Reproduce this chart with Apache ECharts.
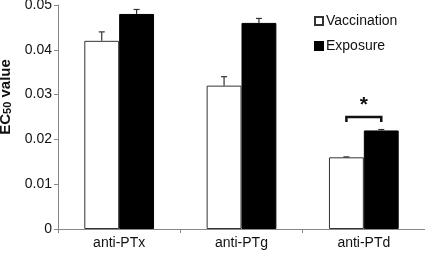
<!DOCTYPE html>
<html>
<head>
<meta charset="utf-8">
<script src="https://cdn.jsdelivr.net/npm/echarts@6/dist/echarts.min.js"></script>
<style>
  html, body { margin: 0; padding: 0; background: #fff; }
  #main { width: 425px; height: 253px; }
</style>
</head>
<body>
<div id="main"></div>
<script>
let categories = ['anti-PTx', 'anti-PTg', 'anti-PTd']
let vaccination = [0.042, 0.032, 0.016]
let exposure = [0.048, 0.046, 0.022]
let vaccinationErr = [0.002, 0.002, 0.0001]
let exposureErr = [0.001, 0.001, 0.0002]
let yTicks = [0, 0.01, 0.02, 0.03, 0.04, 0.05]
// significance bracket over anti-PTd
let sigCategory = 2
let sigLevel = 0.025

let chart = echarts.init(document.getElementById('main'), null, { renderer: 'canvas' })
let catGap = 0.43 // share of category left empty

function barHalf(api) {
  let band = api.size([1, 0])[0]
  return band * (1 - catGap) / 4
}

// error bars: [catIndex, value, err, side]
let errData = []
vaccination.forEach(function (v, i) { errData.push([i, v, vaccinationErr[i], -1]) })
exposure.forEach(function (v, i) { errData.push([i, v, exposureErr[i], 1]) })

function renderErr(params, api) {
  let half = barHalf(api)
  let side = api.value(3)
  let base = api.coord([api.value(0), api.value(1)])
  let top = api.coord([api.value(0), api.value(1) + api.value(2)])
  let x = base[0] + side * half
  let style = { stroke: '#333', lineWidth: 1.2 }
  return {
    type: 'group',
    children: [
      { type: 'line', shape: { x1: x, y1: base[1], x2: x, y2: top[1] }, style: style },
      { type: 'line', shape: { x1: x - 3, y1: top[1], x2: x + 3, y2: top[1] }, style: style }
    ]
  }
}

function renderSig(params, api) {
  let half = barHalf(api)
  let p = api.coord([api.value(0), api.value(1)])
  let x1 = p[0] - half, x2 = p[0] + half
  let style = { stroke: '#111', lineWidth: 2.5, fill: null }
  return {
    type: 'group',
    children: [
      { type: 'polyline', shape: { points: [[x1, p[1] + 5], [x1, p[1]], [x2, p[1]], [x2, p[1] + 5]] }, style: style },
      { type: 'text', style: { x: p[0], y: p[1] - 1, text: '*', fill: '#111', font: 'bold 21px "Liberation Sans", Arial', align: 'center', verticalAlign: 'bottom' } }
    ]
  }
}

let option = {
  animation: false,
  textStyle: { fontFamily: '"Liberation Sans", Arial, sans-serif' },
  grid: { left: 58, right: 0, top: 5, bottom: 24, outerBoundsMode: 'none' },
  legend: {
    orient: 'vertical',
    left: 309,
    top: 9,
    itemWidth: 8,
    itemHeight: 8,
    itemGap: 11,
    icon: 'rect',
    textStyle: { fontSize: 14, color: '#111', fontFamily: '"Liberation Sans", Arial, sans-serif', padding: [0, 0, 0, -2] },
    data: ['Vaccination', 'Exposure']
  },
  xAxis: {
    type: 'category',
    data: categories,
    axisLine: { lineStyle: { color: '#888' } },
    axisTick: { show: true, length: 4, lineStyle: { color: '#888' } },
    axisLabel: { fontSize: 14, color: '#111', margin: 7 }
  },
  yAxis: {
    type: 'value',
    min: yTicks[0],
    max: yTicks[yTicks.length - 1],
    interval: 0.01,
    name: '{a|EC}{b|50}{a| value}',
    nameLocation: 'middle',
    nameGap: 42,
    nameTextStyle: {
      padding: [0, 0, 0, 40],
      rich: {
        a: { fontSize: 15, fontWeight: 'bold', color: '#111', fontFamily: '"Liberation Sans", Arial' },
        b: { fontSize: 11, fontWeight: 'bold', color: '#111', fontFamily: '"Liberation Sans", Arial', padding: [4, 0, 0, 0] }
      }
    },
    axisLine: { show: true, lineStyle: { color: '#888' } },
    axisTick: { show: true, length: 4, lineStyle: { color: '#888' } },
    splitLine: { show: false },
    axisLabel: { fontSize: 14, color: '#111', margin: 6 }
  },
  series: [
    {
      name: 'Vaccination',
      type: 'bar',
      data: vaccination,
      barGap: 0,
      barCategoryGap: '43%',
      itemStyle: { color: '#fff', borderColor: '#333', borderWidth: 1 }
    },
    {
      name: 'Exposure',
      type: 'bar',
      data: exposure,
      itemStyle: { color: '#000', borderColor: '#000', borderWidth: 1 }
    },
    {
      type: 'custom',
      renderItem: renderErr,
      data: errData,
      encode: { x: 0, y: 1 },
      z: 5,
      silent: true
    },
    {
      type: 'custom',
      renderItem: renderSig,
      data: [[sigCategory, sigLevel]],
      encode: { x: 0, y: 1 },
      z: 5,
      silent: true
    }
  ]
}

chart.setOption(option)
</script>
</body>
</html>
